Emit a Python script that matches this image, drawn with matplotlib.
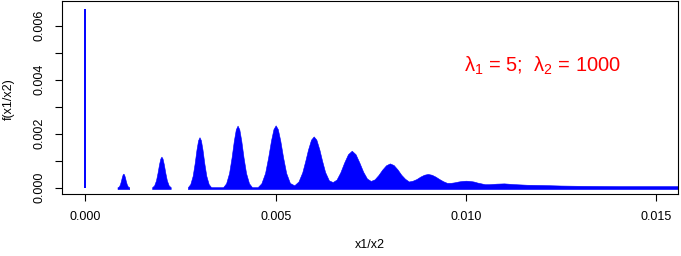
import numpy as np
import matplotlib
matplotlib.use("Agg")
import matplotlib.pyplot as plt

plt.rcParams['font.family'] = ['Liberation Sans', 'DejaVu Sans']
plt.rcParams['mathtext.fontset'] = 'custom'
plt.rcParams['mathtext.rm'] = 'Liberation Sans'
plt.rcParams['mathtext.it'] = 'Liberation Sans:italic'

# mass at x1/x2 = 0 (x1 = 0)
spike_x = 0.0
spike_y = 0.00662

# envelope of the spikes around 1/1000 and 2/1000 (separate bumps)
bump1_x = [0.000846, 0.000878, 0.000910, 0.000936, 0.000960, 0.000981, 0.001000,
           0.001019, 0.001040, 0.001064, 0.001090, 0.001122, 0.001154]
bump1_y = [0.00002, 0.000037, 0.000123, 0.000253, 0.000393, 0.000489, 0.00052,
           0.000489, 0.000393, 0.000253, 0.000123, 0.000037, 0.00002]

bump2_x = [0.001756, 0.001807, 0.001857, 0.001899, 0.001937, 0.001971, 0.002000,
           0.002029, 0.002063, 0.002101, 0.002143, 0.002193, 0.002244]
bump2_y = [0.00002, 0.000082, 0.000271, 0.00056, 0.000868, 0.001081, 0.00115,
           0.001081, 0.000868, 0.00056, 0.000271, 0.000082, 0.00002]

# envelope from 3/1000 onwards (continuous down to the right edge)
main_x = [0.002695, 0.002758, 0.002821, 0.002874, 0.002921, 0.002963, 0.003000,
          0.003037, 0.003079, 0.003126, 0.003179, 0.003242, 0.003305,
          0.003620, 0.003699, 0.003777, 0.003843, 0.003902, 0.003954, 0.004000,
          0.004046, 0.004098, 0.004157, 0.004223, 0.004301, 0.004380,
          0.004527, 0.004625, 0.004723, 0.004804, 0.004878, 0.004943, 0.005000,
          0.005057, 0.005122, 0.005196, 0.005277, 0.005375, 0.005490,
          0.00560, 0.00570, 0.00578, 0.00585, 0.00593, 0.00600, 0.00607, 0.00615, 0.00622, 0.00630,
          0.00640, 0.00650, 0.00660, 0.00670, 0.00680, 0.00690, 0.00700, 0.00710, 0.00720, 0.00730,
          0.00740, 0.00750, 0.00760, 0.00770, 0.00780, 0.00790, 0.00800, 0.00810, 0.00820, 0.00830,
          0.00840, 0.00850, 0.00860, 0.00870, 0.00880, 0.00890, 0.00900, 0.00910, 0.00920, 0.00930,
          0.00940, 0.00950, 0.00960, 0.00970, 0.00980, 0.00990, 0.01000, 0.01010, 0.01020, 0.01030,
          0.01040, 0.01050, 0.01060, 0.01080, 0.01100, 0.01130, 0.01160, 0.01200, 0.01250, 0.01300,
          0.01400, 0.01500, 0.01570]
main_y = [0.00002, 0.000133, 0.000441, 0.000911, 0.001412, 0.001758, 0.00187,
          0.001758, 0.001412, 0.000911, 0.000441, 0.000133, 0.00002,
          0.00002, 0.000163, 0.000543, 0.00112, 0.001737, 0.002162, 0.0023,
          0.002162, 0.001737, 0.00112, 0.000543, 0.000163, 0.00002,
          0.00002, 0.000164, 0.000545, 0.001125, 0.001744, 0.002171, 0.00231,
          0.002171, 0.001744, 0.001125, 0.000545, 0.000175, 0.00009,
          0.00023, 0.00057, 0.00100, 0.00141, 0.00178, 0.00190, 0.00178, 0.00141, 0.00100, 0.00058,
          0.00027, 0.00021, 0.00030, 0.00057, 0.00093, 0.00124, 0.00137, 0.00124, 0.00093, 0.00059,
          0.00034, 0.00025, 0.00031, 0.00047, 0.00067, 0.00083, 0.00090, 0.00084, 0.00068, 0.00048,
          0.00033, 0.00023, 0.00026, 0.00032, 0.00041, 0.00048, 0.00051, 0.00048, 0.00041, 0.00032,
          0.00024, 0.00018, 0.00018, 0.00020, 0.00023, 0.00025, 0.00026, 0.00025, 0.00023, 0.00019,
          0.00016, 0.00013, 0.00013, 0.00015, 0.00016, 0.00013, 0.00011, 0.00010, 0.00008, 0.00007,
          0.00006, 0.00006, 0.00006]

xticks = [0.0, 0.005, 0.010, 0.015]
xtick_labels = ["0.000", "0.005", "0.010", "0.015"]
yticks = [0.0, 0.001, 0.002, 0.003, 0.004, 0.005, 0.006]
ytick_labels = ["0.000", "", "0.002", "", "0.004", "", "0.006"]

blue = "#0000FF"
base = -0.00005

fig = plt.figure(figsize=(6.81, 2.56), dpi=100)
ax = fig.add_axes([62.3 / 681, 1 - 194.3 / 256, (678 - 62.3) / 681, (194.3 - 1) / 256])

ax.vlines(spike_x, 0, spike_y, color=blue, lw=1.4)
for bx, by in [(bump1_x, bump1_y), (bump2_x, bump2_y), (main_x, main_y)]:
    ax.fill_between(bx, base, by, color=blue, lw=0.4, edgecolor=blue)

ax.set_xlim(-0.000604, 0.01557)
ax.set_ylim(-0.000244, 0.006915)

ax.set_xticks(xticks)
ax.set_xticklabels(xtick_labels)
ax.set_yticks(yticks)
ax.set_yticklabels(ytick_labels, rotation=90, va='center', ha='right')
ax.tick_params(length=5, width=0.8, pad=7, labelsize=9, colors='black')
for s in ax.spines.values():
    s.set_linewidth(0.8)
    s.set_color('black')

fig.text(370 / 681, 1 - 245 / 256, "x1/x2", ha='center', va='center', fontsize=9)
fig.text(9 / 681, 1 - 99 / 256, "f(x1/x2)", ha='center', va='center', fontsize=9, rotation=90)

ax.text(0.01202, 0.00451, r"$\mathrm{\lambda}_1$ = 5;  $\mathrm{\lambda}_2$ = 1000",
        color="#FF0000", fontsize=14.5, ha='center', va='center')

fig.savefig("out.png", dpi=100)
